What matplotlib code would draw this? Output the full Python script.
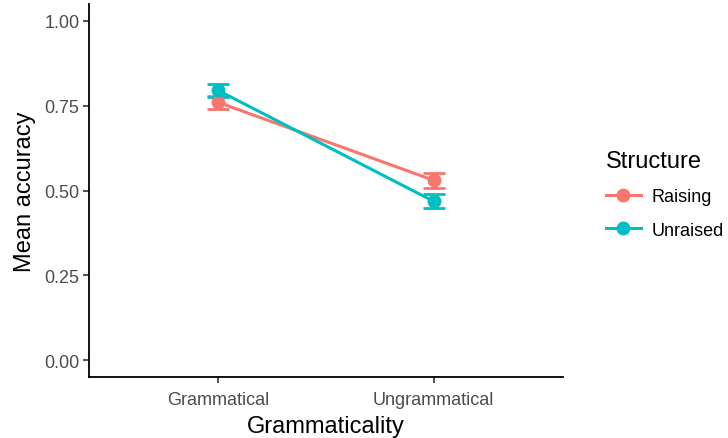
import matplotlib.pyplot as plt
from matplotlib.lines import Line2D

plt.rcParams["font.family"] = ["Liberation Sans", "DejaVu Sans"]

grammaticality = ["Grammatical", "Ungrammatical"]
structures = ["Raising", "Unraised"]
mean_acc = {"Raising": [0.760, 0.530], "Unraised": [0.795, 0.468]}
se_acc = {"Raising": [0.020, 0.022], "Unraised": [0.020, 0.021]}
colors = {"Raising": "#F8766D", "Unraised": "#00BFC4"}

fig = plt.figure(figsize=(7.28, 4.39), dpi=100)
ax = fig.add_axes([89 / 728, 61 / 439, (563 - 89) / 728, (378 - 5) / 439])

xs = list(range(1, len(grammaticality) + 1))
for s in structures:
    ax.errorbar(xs, mean_acc[s], yerr=se_acc[s], color=colors[s], lw=2.2,
                marker="o", ms=9, capsize=8, capthick=2, elinewidth=2)

ax.set_xlim(0.4, 2.6)
ax.set_ylim(-0.05, 1.05)
ax.set_xticks(xs)
ax.set_xticklabels(grammaticality)
ax.set_yticks([0, 0.25, 0.5, 0.75, 1.0])
ax.set_yticklabels(["0.00", "0.25", "0.50", "0.75", "1.00"])
ax.tick_params(labelsize=13, labelcolor="#4D4D4D", length=4, width=1.2,
               color="#333333", pad=3)
ax.tick_params(axis="x", pad=6)
for side in ("top", "right"):
    ax.spines[side].set_visible(False)
for side in ("left", "bottom"):
    ax.spines[side].set_linewidth(1.3)

ax.set_xlabel("Grammaticality", fontsize=17, labelpad=5)
ax.set_ylabel("Mean accuracy", fontsize=17, labelpad=6)

handles = [Line2D([], [], color=colors[s], lw=2.2, marker="o", ms=9) for s in structures]
leg = fig.legend(handles, structures, title="Structure", loc="upper left",
                 bbox_to_anchor=(590 / 728, 1 - 135 / 439), frameon=False,
                 fontsize=13, title_fontsize=17, handlelength=1.9,
                 handletextpad=0.6, labelspacing=0.9)
leg._legend_box.align = "left"

fig.savefig("out.png", dpi=100)
